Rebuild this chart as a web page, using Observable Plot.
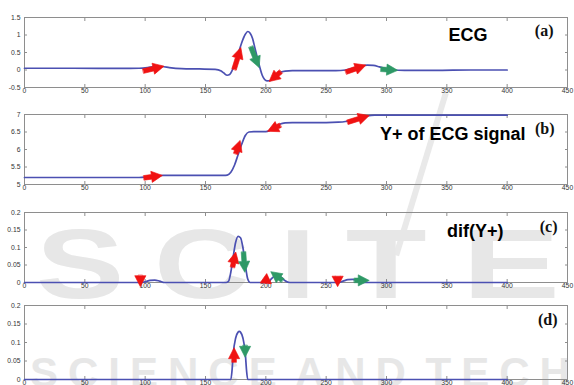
<!DOCTYPE html>
<html>
<head>
<meta charset="utf-8">
<script src="https://cdn.jsdelivr.net/npm/d3@7"></script>
<script src="https://cdn.jsdelivr.net/npm/@observablehq/plot@0.6"></script>
<style>
  html, body { margin: 0; padding: 0; background: #fff; }
  #chart { position: relative; width: 574px; height: 385px; overflow: hidden; }
  .panel { position: absolute; left: 0; }
  .wm { position: absolute; color: #e7e7e7; font-weight: bold; white-space: nowrap;
        font-family: "Liberation Sans", Arial, sans-serif; line-height: 1; transform-origin: left top; }
  .slash { position: absolute; background: #e9e9e9; transform-origin: left top; }
</style>
</head>
<body>
<div id="chart">
  <div class="slash" id="slash"></div>
  <div class="wm" id="wm1">SCIT</div>
  <div class="wm" id="wm1b">E</div>
  <div class="wm" id="wm2">SCIENCE AND TECH</div>
</div>
<script>
// Shared x axis (sample index)
const xDomain = [0, 450];
const xTicks = [0, 50, 100, 150, 200, 250, 300, 350, 400, 450];

// (a) ECG beat
const ecgX = [0, 40, 80, 95, 102, 108, 114, 120, 130, 145, 158, 163, 165, 168, 170, 172, 174, 177, 180, 183, 185, 187, 189, 191, 193, 195, 197, 199, 201, 204, 207, 211, 216, 222, 240, 258, 266, 272, 278, 284, 289, 294, 299, 305, 315, 340, 370, 400];
const ecgY = [0.05, 0.05, 0.045, 0.05, 0.07, 0.1, 0.1, 0.07, 0.04, 0.03, 0.02, -0.03, -0.08, -0.15, -0.13, -0.02, 0.15, 0.45, 0.78, 1.02, 1.1, 1.05, 0.9, 0.62, 0.35, 0.08, -0.15, -0.27, -0.31, -0.3, -0.2, -0.08, -0.03, -0.02, -0.02, -0.02, 0.0, 0.05, 0.1, 0.14, 0.13, 0.09, 0.04, 0.0, -0.01, -0.01, 0.0, 0.0];
const ecgTicks = [-0.5, 0, 0.5, 1, 1.5];

// (b) Y+ of the ECG signal
const yPlusX = [0, 95, 100, 105, 110, 115, 120, 165, 168, 171, 174, 177, 180, 183, 186, 190, 200, 203, 206, 209, 212, 216, 222, 250, 260, 266, 272, 278, 284, 290, 300, 400];
const yPlusY = [5.2, 5.2, 5.21, 5.23, 5.25, 5.26, 5.26, 5.26, 5.27, 5.35, 5.55, 5.85, 6.15, 6.4, 6.5, 6.51, 6.51, 6.54, 6.6, 6.67, 6.73, 6.76, 6.77, 6.77, 6.78, 6.8, 6.85, 6.91, 6.96, 6.98, 6.98, 6.98];
const yPlusTicks = [5, 5.5, 6, 6.5, 7];

// (c) dif(Y+)
const difX = [0, 96, 100, 104, 108, 112, 116, 167, 169, 171, 173, 175, 177, 179, 181, 183, 185, 187, 202, 204, 207, 210, 213, 216, 220, 260, 264, 268, 272, 276, 280, 400];
const difY = [0, 0, 0.002, 0.006, 0.007, 0.004, 0, 0, 0.003, 0.03, 0.075, 0.115, 0.132, 0.128, 0.1, 0.05, 0.01, 0, 0, 0.008, 0.018, 0.02, 0.014, 0.005, 0, 0, 0.004, 0.008, 0.009, 0.005, 0, 0];
const difTicks = [0, 0.05, 0.1, 0.15, 0.2];

// (d) retained QRS lobe of dif(Y+)
const qrsX = [0, 171, 172, 173, 175, 177, 178, 179, 181, 183, 184, 185, 400];
const qrsY = [0, 0, 0.025, 0.07, 0.112, 0.128, 0.13, 0.128, 0.112, 0.07, 0.025, 0, 0];
const qrsTicks = [0, 0.05, 0.1, 0.15, 0.2];

// Direction arrows: [x from, y from, x to, y to, kind]
const ecgArrows = [
  [98.5, -0.03, 115.6, 0.11, "red"],
  [173.7, 0.02, 179.3, 0.64, "red"],
  [187.6, 0.66, 194.4, 0.07, "green"],
  [212.4, -0.05, 202.7, -0.33, "red"],
  [266.4, -0.06, 283, 0.14, "red"],
  [295.4, 0.02, 309.3, -0.01, "green"]
];
const yPlusArrows = [
  [99, 5.19, 114.3, 5.26, "red"],
  [175.1, 5.88, 178.7, 6.26, "red"],
  [211.9, 6.69, 201.4, 6.52, "red"],
  [267.8, 6.78, 285.7, 6.97, "red"]
];
const difArrows = [
  [96, 0.02, 96, -0.012, "red"],
  [172.4, 0.044, 175.1, 0.087, "red"],
  [181.5, 0.087, 182.6, 0.029, "green"],
  [202.7, 0.011, 195.3, -0.001, "red"],
  [213.8, 0.006, 204.1, 0.031, "green"],
  [259.5, 0.018, 259.5, -0.012, "red"],
  [273.3, 0.006, 285.7, 0.006, "green"]
];
const qrsArrows = [
  [173.7, 0.047, 173.7, 0.086, "red"],
  [182.8, 0.092, 182.8, 0.06, "green"]
];

const arrowColors = {red: "#f01212", green: "#2e9966"};
const lineColor = "#4b50b2";
const frameColor = "#8e8e8e";

// Filled arrow drawn pointing up from its tail; Plot rotates it into place.
const arrowShape = {
  draw(context, l) {
    const h = Math.min(l, 11), hw = 5.6, sw = 2.3, b = -(l - h);
    context.moveTo(-sw, 0);
    context.lineTo(-sw, b);
    context.lineTo(-hw, b);
    context.lineTo(0, -l);
    context.lineTo(hw, b);
    context.lineTo(sw, b);
    context.lineTo(sw, 0);
    context.closePath();
  }
};

const panels = [
  {top: 0, height: 100, mt: 17, mb: 13, domain: [-0.5, 1.5], ticks: ecgTicks, xs: ecgX, ys: ecgY, arrows: ecgArrows,
   title: "ECG", titleDx: -80, titleDy: 23, tag: "(a)", tagDx: -14, tagDy: 18},
  {top: 100, height: 96, mt: 14, mb: 12, domain: [5, 7], ticks: yPlusTicks, xs: yPlusX, ys: yPlusY, arrows: yPlusArrows,
   title: "Y+ of ECG signal", titleDx: -42, titleDy: 25, tag: "(b)", tagDx: -13, tagDy: 19},
  {top: 196, height: 98, mt: 16, mb: 12, domain: [0, 0.2], ticks: difTicks, xs: difX, ys: difY, arrows: difArrows,
   title: "dif(Y+)", titleDx: -64, titleDy: 24, tag: "(c)", tagDx: -10, tagDy: 19},
  {top: 294, height: 91, mt: 11, mb: 6, domain: [0, 0.2], ticks: qrsTicks, xs: qrsX, ys: qrsY, arrows: qrsArrows,
   title: null, tag: "(d)", tagDx: -10, tagDy: 19}
];

const W = 574, ML = 24, MR = 7;
const fmt = d => String(d);

function makePanel(p) {
  const innerW = W - ML - MR, innerH = p.height - p.mt - p.mb;
  const kx = innerW / (xDomain[1] - xDomain[0]);
  const ky = innerH / (p.domain[1] - p.domain[0]);
  const series = p.xs.map((x, i) => ({x, y: p.ys[i]}));
  const arrows = p.arrows.map(([x1, y1, x2, y2, kind]) => {
    const dx = (x2 - x1) * kx, dy = -(y2 - y1) * ky;
    return {x: x1, y: y1, length: Math.hypot(dx, dy), rotate: Math.atan2(dx, -dy) * 180 / Math.PI, color: arrowColors[kind]};
  });
  const marks = [
    Plot.frame({stroke: frameColor}),
    Plot.axisX(xTicks, {anchor: "bottom", tickSize: -3, tickPadding: 4, fontSize: 6.8, stroke: frameColor, fill: "#333", tickFormat: fmt}),
    Plot.axisX(xTicks, {anchor: "top", tickSize: -3, tickFormat: () => "", stroke: frameColor}),
    Plot.axisY(p.ticks, {anchor: "left", tickSize: -3, tickPadding: 7, fontSize: 6.8, stroke: frameColor, fill: "#333", tickFormat: fmt}),
    Plot.axisY(p.ticks, {anchor: "right", tickSize: -3, tickFormat: () => "", stroke: frameColor}),
    Plot.line(series, {x: "x", y: "y", curve: "monotone-x", stroke: lineColor, strokeWidth: 1.7}),
    Plot.vector(arrows, {x: "x", y: "y", length: "length", rotate: "rotate", anchor: "start", shape: arrowShape,
      fill: "color", stroke: "color", strokeWidth: 0.6}),
    Plot.text([p.tag], {frameAnchor: "top-right", textAnchor: "end", lineAnchor: "bottom", dx: p.tagDx, dy: p.tagDy,
      fontSize: 16, fontWeight: "bold", fontFamily: "Liberation Serif, Times New Roman, serif", fill: "#111"})
  ];
  if (p.title) {
    marks.push(Plot.text([p.title], {frameAnchor: "top-right", textAnchor: "end", lineAnchor: "bottom", dx: p.titleDx, dy: p.titleDy,
      fontSize: 18, fontWeight: "bold", fontFamily: "Liberation Sans, Arial, sans-serif", fill: "#000"}));
  }
  const svg = Plot.plot({
    width: W, height: p.height,
    marginLeft: ML, marginRight: MR, marginTop: p.mt, marginBottom: p.mb,
    style: {background: "none", overflow: "visible", fontFamily: "Liberation Sans, Arial, sans-serif"},
    x: {domain: xDomain, label: null},
    y: {domain: p.domain, label: null},
    length: {type: "identity"},
    marks
  });
  svg.classList.add("panel");
  svg.style.top = p.top + "px";
  return svg;
}

const chart = document.getElementById("chart");
for (const p of panels) chart.appendChild(makePanel(p));

// Publisher watermark behind the panels
Object.assign(document.getElementById("wm1").style,
  {left: "36px", top: "215px", fontSize: "98px", letterSpacing: "22px", transform: "scaleX(1.35)"});
Object.assign(document.getElementById("wm1b").style,
  {left: "462px", top: "215px", fontSize: "98px", transform: "scaleX(1.5)"});
Object.assign(document.getElementById("wm2").style,
  {left: "30px", top: "352px", fontSize: "42px", letterSpacing: "10px", wordSpacing: "-12px"});
Object.assign(document.getElementById("slash").style,
  {left: "443px", top: "92px", width: "6px", height: "170px", transform: "rotate(17deg)"});
</script>
</body>
</html>
